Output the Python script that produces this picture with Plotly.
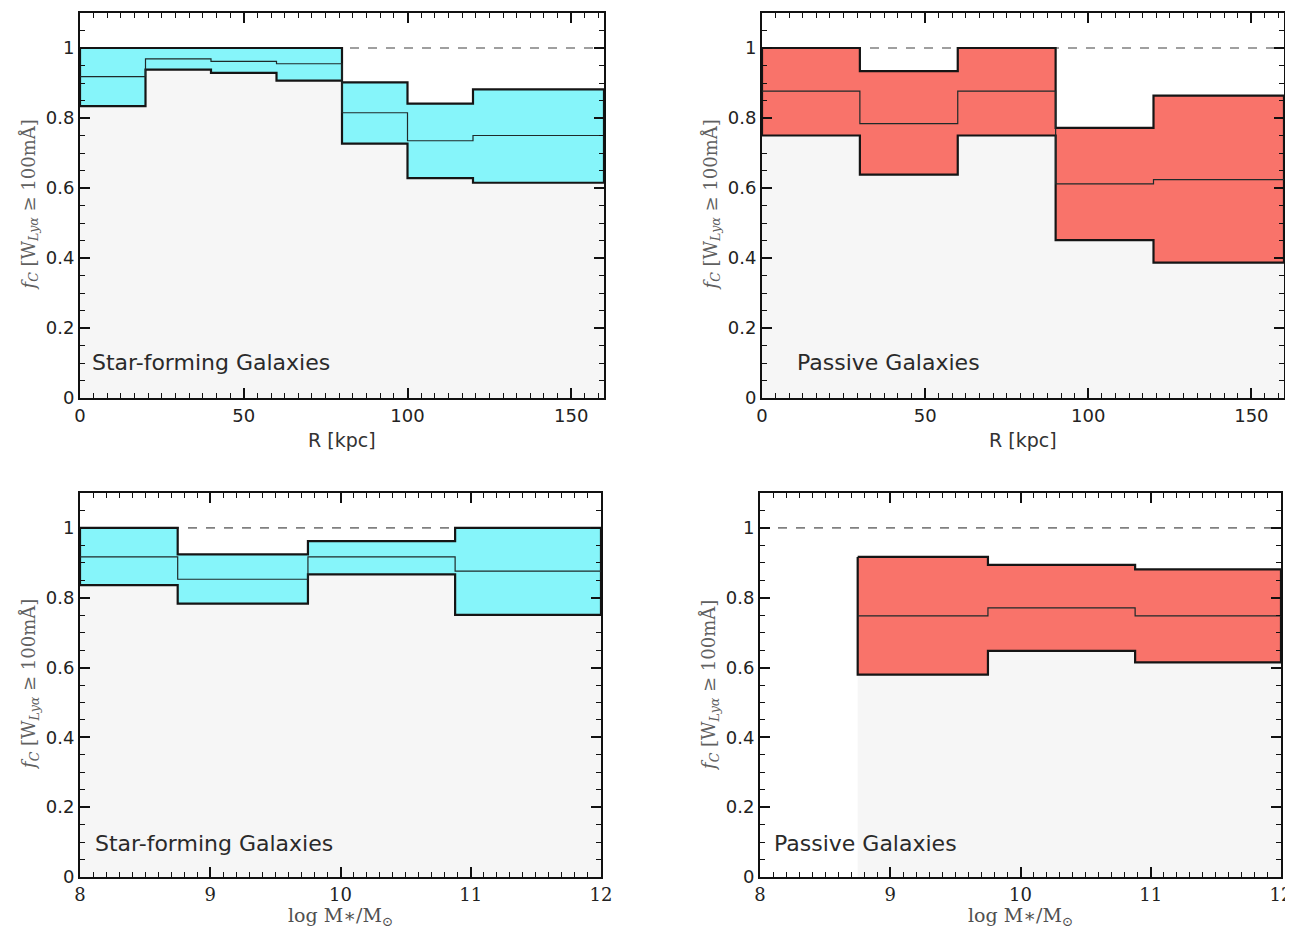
import plotly.graph_objects as go

# ---------------- data ----------------
# Top row: covering fraction vs impact parameter R [kpc]
r_edges_sf = [0, 20, 40, 60, 80, 100, 120, 160]
sf_r_low = [0.834, 0.938, 0.929, 0.907, 0.727, 0.628, 0.615]
sf_r_mid = [0.918, 0.969, 0.962, 0.955, 0.815, 0.735, 0.750]
sf_r_up = [1.0, 1.0, 1.0, 1.0, 0.902, 0.841, 0.882]

r_edges_pa = [0, 30, 60, 90, 120, 160]
pa_r_low = [0.750, 0.638, 0.750, 0.451, 0.387]
pa_r_mid = [0.877, 0.784, 0.877, 0.612, 0.624]
pa_r_up = [1.0, 0.934, 1.0, 0.772, 0.864]

# Bottom row: covering fraction vs stellar mass log M*/Msun
m_edges_sf = [8.0, 8.75, 9.75, 10.88, 12.0]
sf_m_low = [0.836, 0.783, 0.867, 0.751]
sf_m_mid = [0.917, 0.853, 0.917, 0.876]
sf_m_up = [1.0, 0.924, 0.962, 1.0]

m_edges_pa = [8.75, 9.75, 10.88, 12.0]
pa_m_low = [0.580, 0.648, 0.615]
pa_m_mid = [0.748, 0.771, 0.748]
pa_m_up = [0.917, 0.894, 0.881]

panel_labels = ["Star-forming Galaxies", "Passive Galaxies",
                "Star-forming Galaxies", "Passive Galaxies"]

CYAN = "#86F5FA"
RED = "#F9736A"
GREY_FILL = "#F6F6F6"

# page body has an 8px margin: work in reference pixels, shift by OFF
OFF = 8
W, H = 1293 - OFF, 930 - OFF


def fx(px):
    return (px - OFF) / W


def fy(py):
    return 1 - (py - OFF) / H


def step(edges, vals):
    xs, ys = [], []
    for i, v in enumerate(vals):
        xs += [edges[i], edges[i + 1]]
        ys += [v, v]
    return xs, ys


fig = go.Figure()

panels = [
    dict(edges=r_edges_sf, low=sf_r_low, mid=sf_r_mid, up=sf_r_up, color=CYAN,
         ax="x", ay="y", xr=[0, 160], px=(80, 604), py=(13, 398)),
    dict(edges=r_edges_pa, low=pa_r_low, mid=pa_r_mid, up=pa_r_up, color=RED,
         ax="x2", ay="y2", xr=[0, 160], px=(762, 1284), py=(13, 398)),
    dict(edges=m_edges_sf, low=sf_m_low, mid=sf_m_mid, up=sf_m_up, color=CYAN,
         ax="x3", ay="y3", xr=[8, 12], px=(80, 601), py=(493, 877)),
    dict(edges=m_edges_pa, low=pa_m_low, mid=pa_m_mid, up=pa_m_up, color=RED,
         ax="x4", ay="y4", xr=[8, 12], px=(760, 1281), py=(493, 877)),
]

for p in panels:
    xa, ya = p["ax"], p["ay"]
    fig.add_trace(go.Scatter(x=p["xr"], y=[1, 1], mode="lines", xaxis=xa, yaxis=ya,
                             line=dict(color="#808080", width=1.6, dash="dash"),
                             hoverinfo="skip", showlegend=False))
    xl, yl = step(p["edges"], p["low"])
    xu, yu = step(p["edges"], p["up"])
    xm, ym = step(p["edges"], p["mid"])
    fig.add_trace(go.Scatter(x=[xl[0]] + xl + [xl[-1]], y=[0] + yl + [0],
                             mode="none", fill="toself", fillcolor=GREY_FILL,
                             xaxis=xa, yaxis=ya, hoverinfo="skip", showlegend=False))
    fig.add_trace(go.Scatter(x=xu + xl[::-1] + [xu[0]], y=yu + yl[::-1] + [yu[0]],
                             mode="lines", fill="toself", fillcolor=p["color"],
                             line=dict(color="#151515", width=2.2),
                             xaxis=xa, yaxis=ya, hoverinfo="skip", showlegend=False))
    fig.add_trace(go.Scatter(x=xm, y=ym, mode="lines",
                             line=dict(color="#1e2a2a", width=1.2),
                             xaxis=xa, yaxis=ya, hoverinfo="skip", showlegend=False))

layout = dict(width=W, height=H, margin=dict(l=0, r=0, t=0, b=0),
              paper_bgcolor="white", plot_bgcolor="white", showlegend=False)

SANS = "DejaVu Sans"
SERIF = "DejaVu Serif"

for i, p in enumerate(panels):
    n = "" if i == 0 else str(i + 1)
    x0, x1 = p["px"]
    y0, y1 = p["py"]
    bottom = i >= 2
    major_x = 1 if bottom else 50
    minor_x = 0.1 if bottom else 50 / 12
    layout["xaxis" + n] = dict(
        domain=[fx(x0), fx(x1)], range=p["xr"], anchor="y" + n,
        showline=True, linecolor="#111", linewidth=2, mirror="ticks",
        ticks="inside", ticklen=10, tickwidth=1.5, tickcolor="#111",
        dtick=major_x, tick0=p["xr"][0], showgrid=False, zeroline=False,
        tickfont=dict(family=SERIF if bottom else SANS, size=18, color="#222"),
        ticklabeloverflow="allow",
        minor=dict(dtick=minor_x, tick0=p["xr"][0], ticks="inside", ticklen=5,
                   tickwidth=1.2, tickcolor="#111", showgrid=False),
        automargin=False, fixedrange=True,
    )
    layout["yaxis" + n] = dict(
        domain=[fy(y1), fy(y0)], range=[0, 1.1], anchor="x" + n,
        showline=True, linecolor="#111", linewidth=2, mirror="ticks",
        ticks="inside", ticklen=10, tickwidth=1.5, tickcolor="#111",
        dtick=0.2, tick0=0, showgrid=False, zeroline=False,
        tickfont=dict(family=SANS, size=18, color="#222"),
        minor=dict(dtick=0.05, tick0=0, ticks="inside", ticklen=5,
                   tickwidth=1.2, tickcolor="#111", showgrid=False),
        automargin=False, fixedrange=True,
    )

ytitle = "<i>f<sub>C</sub></i> [W<sub><i>Lyα</i></sub> ≥ 100mÅ]"
annotations = []
for i, p in enumerate(panels):
    x0, x1 = p["px"]
    y0, y1 = p["py"]
    bottom = i >= 2
    annotations.append(dict(text=ytitle, x=fx(x0 - 50), y=fy((y0 + y1) / 2),
                            xref="paper", yref="paper", xanchor="center", yanchor="middle",
                            textangle=-90, showarrow=False,
                            font=dict(family=SERIF, size=18, color="#606060")))
    if bottom:
        annotations.append(dict(text="log M∗/M<sub>⊙</sub>", x=fx((x0 + x1) / 2),
                                y=fy(916), xref="paper", yref="paper",
                                xanchor="center", yanchor="middle", showarrow=False,
                                font=dict(family=SERIF, size=19, color="#505050")))
    else:
        annotations.append(dict(text="R [kpc]", x=fx((x0 + x1) / 2),
                                y=fy(440), xref="paper", yref="paper",
                                xanchor="center", yanchor="middle", showarrow=False,
                                font=dict(family=SANS, size=19, color="#333")))
    lx = {0: 90, 1: 795, 2: 93, 3: 772}[i]
    ly = 362 if not bottom else 843
    annotations.append(dict(text=panel_labels[i], x=fx(lx), y=fy(ly),
                            xref="paper", yref="paper", xanchor="left", yanchor="middle",
                            showarrow=False,
                            font=dict(family=SANS, size=22, color="#2a2a2a")))

layout["annotations"] = annotations
fig.update_layout(**layout)
fig.write_html("out.html")
